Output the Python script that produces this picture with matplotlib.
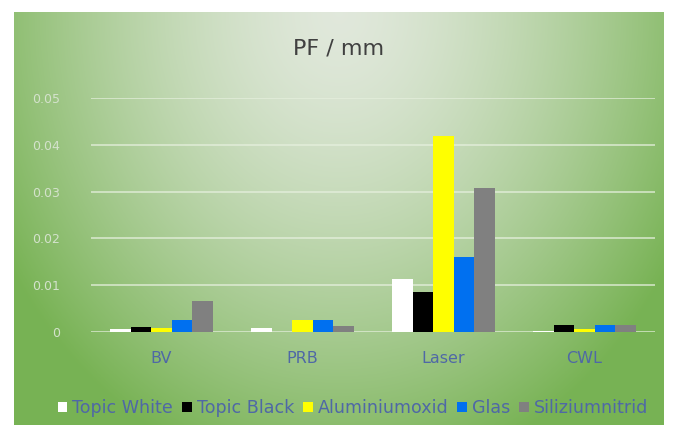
import numpy as np
import matplotlib
matplotlib.use("Agg")
import matplotlib.pyplot as plt

categories = ["BV", "PRB", "Laser", "CWL"]
series = ["Topic White", "Topic Black", "Aluminiumoxid", "Glas", "Siliziumnitrid"]
topic_white = [0.0006, 0.0008, 0.0113, 0.0003]
topic_black = [0.0010, 0.0, 0.0085, 0.0015]
aluminiumoxid = [0.0008, 0.0025, 0.0419, 0.0006]
glas = [0.0025, 0.0025, 0.0160, 0.0014]
siliziumnitrid = [0.0066, 0.0012, 0.0308, 0.0014]
yticks = [0, 0.01, 0.02, 0.03, 0.04, 0.05]
ytick_labels = ["0", "0.01", "0.02", "0.03", "0.04", "0.05"]

values = [topic_white, topic_black, aluminiumoxid, glas, siliziumnitrid]
colors = ["#ffffff", "#000000", "#ffff00", "#0070f0", "#808080"]
text_blue = "#4f68a6"

W, H = 678, 437
fig = plt.figure(figsize=(W / 100, H / 100), dpi=100)
fig.patch.set_facecolor("white")

# green panel, light in the upper middle
bg = fig.add_axes([14 / W, 12 / H, 650 / W, 413 / H])
yy, xx = np.mgrid[0:1:300j, 0:1:500j]
r = np.sqrt(((xx - 0.5) / 0.6) ** 2 + ((yy - 0.0) / 1.15) ** 2)
t = np.clip(r, 0, 1) ** 1.5
light = np.array([0.88, 0.91, 0.86])
green = np.array([0.47, 0.70, 0.33])
img = light[None, None, :] * (1 - t[..., None]) + green[None, None, :] * t[..., None]
bg.imshow(img, aspect="auto", extent=[0, 1, 1, 0])
bg.set_xlim(0, 1)
bg.set_ylim(1, 0)
bg.axis("off")

ax = fig.add_axes([91 / W, (H - 332) / H, 564 / W, 234 / H])
ax.patch.set_alpha(0)
x = np.arange(len(categories))
bw = 0.145
for i, (name, vals) in enumerate(zip(series, values)):
    ax.bar(x + (i - 2) * bw, vals, bw, color=colors[i], label=name, zorder=3)

ax.set_ylim(0, 0.05)
ax.set_xlim(-0.5, 3.5)
ax.set_yticks(yticks)
ax.set_yticklabels(ytick_labels, color="#d4e2cc", fontsize=9)
ax.tick_params(length=0)
ax.tick_params(axis="y", pad=22)
ax.set_xticks(x)
ax.set_xticklabels(categories, color=text_blue, fontsize=11.5)
ax.tick_params(axis="x", pad=14)
ax.grid(axis="y", color="#e6f0de", linewidth=1.2, alpha=0.8, zorder=0)
for s in ax.spines.values():
    s.set_visible(False)

fig.text(0.5, (H - 48) / H, "PF / mm", ha="center", va="center",
         fontsize=16, color="#404040")

fig.legend(loc="center", bbox_to_anchor=(353 / W, (H - 408) / H), ncol=5,
           frameon=False, fontsize=12.6, labelcolor=text_blue,
           handlelength=0.55, handleheight=0.55, handletextpad=0.3,
           columnspacing=0.5)

fig.savefig("out.png", dpi=100)
